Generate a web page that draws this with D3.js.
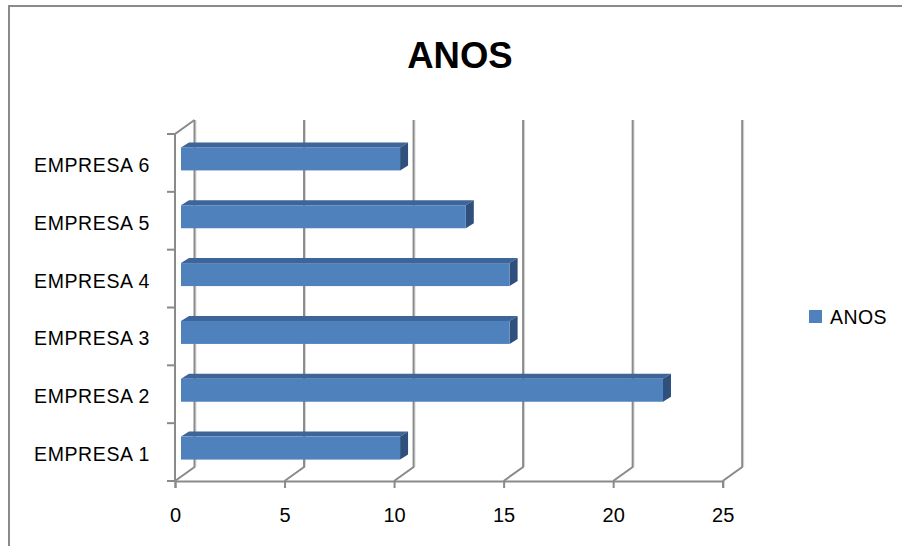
<!DOCTYPE html>
<html>
<head>
<meta charset="utf-8">
<script src="https://cdn.jsdelivr.net/npm/d3@7"></script>
<style>
  body { margin: 0; background: #fff; }
  text { font-family: "Liberation Sans", Arial, sans-serif; fill: #000; }
</style>
</head>
<body>
<svg id="canvas" width="902" height="546"></svg>
<script>
// chart data
const categories = ["EMPRESA 1", "EMPRESA 2", "EMPRESA 3", "EMPRESA 4", "EMPRESA 5", "EMPRESA 6"];
const anos = [10, 22, 15, 15, 13, 10];
const xTicks = [0, 5, 10, 15, 20, 25];
const seriesName = "ANOS";

const svg = d3.select("#canvas");

// outer chart border (left + top only visible)
svg.append("path")
	.attr("d", "M9,546 V6 H902")
	.attr("fill", "none")
	.attr("stroke", "#8a8a8a")
	.attr("stroke-width", 2);

const x = d3.scaleLinear().domain([0, 25]).range([175, 722.7]);
const y = d3.scaleBand().domain(categories).range([481, 134]);

// depth of the 3d walls
const wdx = 19.5, wdy = -14;
const floorY = 481, topY = 134;

// gridlines: back wall vertical + floor diagonal
const grid = svg.append("g");
xTicks.forEach(t => {
	const xf = x(t), xb = xf + wdx;
	grid.append("line")
		.attr("x1", xb + 1.5).attr("x2", xb + 1.5)
		.attr("y1", topY + wdy).attr("y2", floorY + wdy)
		.attr("stroke", "#dcdcdc").attr("stroke-width", 1);
	grid.append("path")
		.attr("d", `M${xb},${topY + wdy} V${floorY + wdy} L${xf},${floorY}`)
		.attr("fill", "none")
		.attr("stroke", "#8a8a8a").attr("stroke-width", 2);
});

// left axis (front) with top depth edge
svg.append("path")
	.attr("d", `M${x(0)},${floorY} V${topY} L${x(0) + wdx},${topY + wdy}`)
	.attr("fill", "none").attr("stroke", "#8a8a8a").attr("stroke-width", 2);

// category ticks on band boundaries
const bounds = categories.map(c => y(c)).concat([y(categories[0]) + y.bandwidth()]);
svg.selectAll(".ytick").data(bounds).enter().append("line")
	.attr("x1", x(0) - 8).attr("x2", x(0))
	.attr("y1", d => d).attr("y2", d => d)
	.attr("stroke", "#8a8a8a").attr("stroke-width", 2);

// bottom axis
const xAxis = svg.append("g")
	.attr("transform", `translate(0,${floorY})`)
	.call(d3.axisBottom(x).tickValues(xTicks).tickSize(7).tickPadding(20));
xAxis.select(".domain").attr("stroke", "#8a8a8a").attr("stroke-width", 2);
xAxis.selectAll(".tick line").attr("stroke", "#8a8a8a").attr("stroke-width", 2);
xAxis.selectAll(".tick text")
	.attr("font-family", "Liberation Sans, Arial, sans-serif")
	.attr("font-size", 20).attr("fill", "#111");

// category labels
svg.selectAll(".ylab").data(categories).enter().append("text")
	.attr("x", 150)
	.attr("y", d => y(d) + y.bandwidth() / 2 + 9)
	.attr("text-anchor", "end")
	.attr("font-size", 19.5)
	.attr("letter-spacing", 0.6)
	.attr("fill", "#111")
	.text(d => d);

// bars (3d)
const bx = 6, by = -4;     // bar front plane offset
const ddx = 8, ddy = -5;   // bar depth
const bh = 23;
const bars = svg.selectAll(".bar").data(categories.map((c, i) => ({ c, v: anos[i] })))
	.enter().append("g").attr("class", "bar");

bars.append("path") // top face
	.attr("d", d => {
		const x0 = x(0) + bx, x1 = x(d.v) + bx;
		const yt = y(d.c) + y.bandwidth() / 2 + by - bh / 2;
		return `M${x0},${yt} L${x0 + ddx},${yt + ddy} L${x1 + ddx},${yt + ddy} L${x1},${yt} Z`;
	})
	.attr("fill", "#3d6598");
bars.append("path") // side face
	.attr("d", d => {
		const x1 = x(d.v) + bx;
		const yt = y(d.c) + y.bandwidth() / 2 + by - bh / 2;
		return `M${x1},${yt} L${x1 + ddx},${yt + ddy} L${x1 + ddx},${yt + ddy + bh} L${x1},${yt + bh} Z`;
	})
	.attr("fill", "#2f507d");
bars.append("rect") // front face
	.attr("x", x(0) + bx)
	.attr("y", d => y(d.c) + y.bandwidth() / 2 + by - bh / 2)
	.attr("width", d => x(d.v) - x(0))
	.attr("height", bh)
	.attr("fill", "#4f81bd");

// title
svg.append("text")
	.attr("x", 460).attr("y", 68)
	.attr("text-anchor", "middle")
	.attr("font-size", 36.5).attr("font-weight", "bold")
	.text(seriesName);

// legend
const legend = svg.append("g").attr("transform", "translate(809,310)");
legend.append("rect").attr("width", 13).attr("height", 13).attr("fill", "#4f81bd");
legend.append("text").attr("x", 21).attr("y", 13.5).attr("font-size", 19.5)
	.attr("letter-spacing", 0.4).attr("fill", "#111").text(seriesName);
</script>
</body>
</html>
